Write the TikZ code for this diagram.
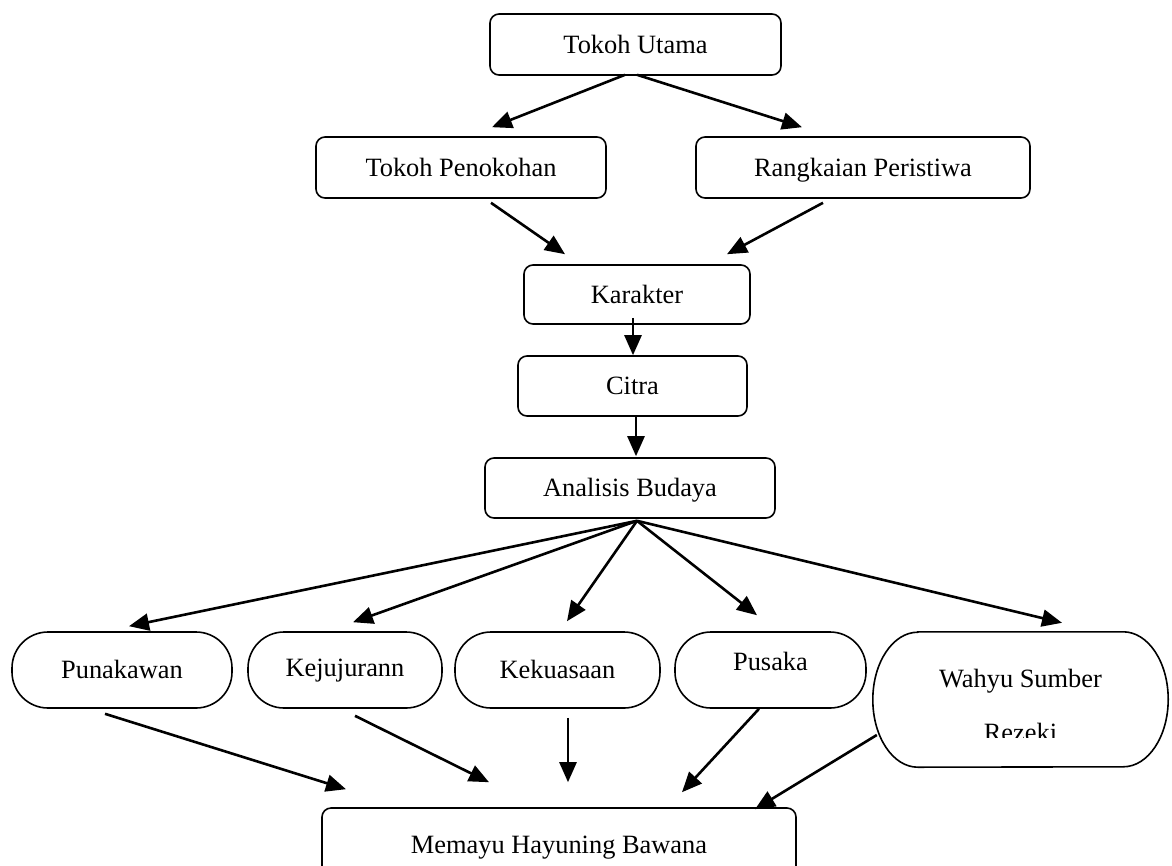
\documentclass[tikz,border=0pt]{standalone}
\usepackage{fontspec}
\setmainfont{Liberation Serif}
\usetikzlibrary{arrows.meta}
\tikzset{
  box/.style={draw, line width=1.6pt, rounded corners=9pt, inner sep=0pt,
    text height=18.5pt, text depth=1.5pt,
    font=\fontsize{26.4}{31}\selectfont},
  pill/.style={draw, line width=1.6pt, rounded corners=36pt, inner sep=0pt,
    text height=18.5pt, text depth=1.5pt,
    minimum height=76pt, font=\fontsize{26.4}{31}\selectfont},
  txt/.style={inner sep=0pt, anchor=base, font=\fontsize{26.4}{31}\selectfont},
  arr/.style={line width=2.6pt, -{Triangle[length=20pt,width=17pt]}},
}
\begin{document}
\begin{tikzpicture}[x=1pt,y=-1pt]
\clip (0,0) rectangle (1172,865);
\fill[white] (0,0) rectangle (1172,865);

% top part
\node[box, minimum width=291pt, minimum height=61pt] (tu) at (635.5,44.5) {Tokoh Utama};
\node[box, minimum width=290pt, minimum height=61pt] (tp) at (461,167.5) {Tokoh Penokohan};
\node[box, minimum width=334pt, minimum height=61pt] (rp) at (863,167.5) {Rangkaian Peristiwa};
\node[box, minimum width=226pt, minimum height=59pt] (k) at (637,294.5) {Karakter};
\node[box, minimum width=229pt, minimum height=60pt] (c) at (632.5,386) {Citra};
\node[box, minimum width=290pt, minimum height=60pt] (ab) at (630,488) {Analisis Budaya};

% bottom row
\node[pill, minimum width=220pt] (pun) at (122,670) {Punakawan};
\node[pill, minimum width=194pt] (kej) at (345,670) {\raisebox{2pt}{Kejujurann}};
\node[pill, minimum width=205pt] (kek) at (557.5,670) {Kekuasaan};
\node[pill, minimum width=191pt] (pus) at (770.5,670) {\raisebox{8pt}{Pusaka}};
\node[inner sep=0pt, minimum width=295pt, minimum height=135pt] (wahyu) at (1020.5,699.5) {};
\draw[line width=1.6pt] ([xshift=45pt]wahyu.north west) -- ([xshift=-45pt]wahyu.north east)
  arc[start angle=90, end angle=-90, x radius=45pt, y radius=67.5pt]
  -- ([xshift=45pt]wahyu.south west)
  arc[start angle=270, end angle=90, x radius=45pt, y radius=67.5pt] -- cycle;
\begin{scope}
  \clip (873,632) rectangle (1168,737);
  \node[txt] (wtxt1) at (1020.5,687) {Wahyu Sumber};
  \node[txt] (wtxt2) at (1020.5,741) {Rezeki};
\end{scope}

\node[box, minimum width=474pt, minimum height=74pt] (mhb) at (559,845) {Memayu Hayuning Bawana};

% connectors
\draw[arr] ([xshift=-10.5pt,yshift=1pt]tu.south) -- ([xshift=31pt,yshift=9pt]tp.north);
\draw[arr] ([xshift=1.5pt,yshift=1pt]tu.south) -- ([xshift=-61pt,yshift=9pt]rp.north);
\draw[arr] ([xshift=30pt,yshift=-4pt]tp.south) -- ([xshift=-72pt,yshift=10pt]k.north);
\draw[arr] ([xshift=-40pt,yshift=-4pt]rp.south) -- ([xshift=90pt,yshift=10pt]k.north);
\draw[arr] ([xshift=-4pt,yshift=7pt]k.south) -- ([xshift=0.5pt]c.north);
\draw[arr] ([xshift=3.5pt]c.south) -- ([xshift=6pt,yshift=1pt]ab.north);

\coordinate (abo) at ([xshift=7pt,yshift=-2pt]ab.south);
\draw[arr] (abo) -- ([xshift=7pt,yshift=5pt]pun.north);
\draw[arr] (abo) -- ([xshift=8pt,yshift=9pt]kej.north);
\draw[arr] (abo) -- ([xshift=9.5pt,yshift=10pt]kek.north);
\draw[arr] (abo) -- ([xshift=-13.5pt,yshift=16pt]pus.north);
\draw[arr] (abo) -- ([xshift=41.5pt,yshift=9pt]wahyu.north);

\draw[arr] ([xshift=-17pt,yshift=-5pt]pun.south) -- ([xshift=-213pt,yshift=18pt]mhb.north);
\draw[arr] ([xshift=10pt,yshift=-7pt]kej.south) -- ([xshift=-70pt,yshift=25pt]mhb.north);
\draw[arr] ([xshift=10.5pt,yshift=-9pt]kek.south) -- ([xshift=9pt,yshift=25pt]mhb.north);
\draw[arr] ([xshift=-11.5pt]pus.south) -- ([xshift=123pt,yshift=15pt]mhb.north);
\draw[arr] ([xshift=4pt,yshift=-35.5pt]wahyu.west) -- ([xshift=196pt,yshift=-2pt]mhb.north);
\end{tikzpicture}
\end{document}
